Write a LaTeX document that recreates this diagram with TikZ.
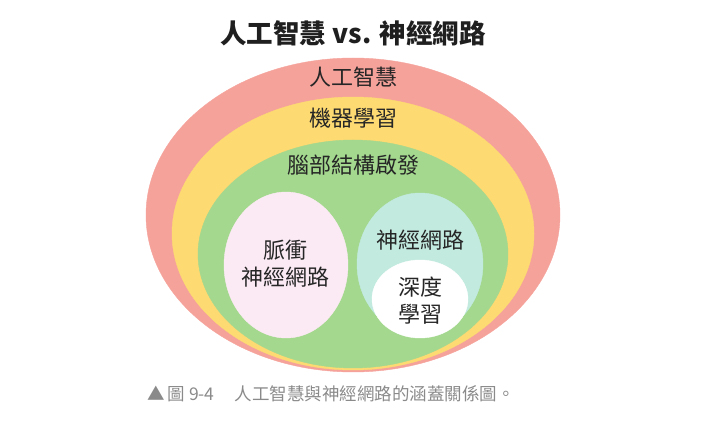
\documentclass[tikz,border=0pt]{standalone}
\usepackage{fontspec}
\usepackage{xcolor}
\usetikzlibrary{positioning}
\newfontfamily\cjk{Noto Sans CJK TC}
\definecolor{aired}{HTML}{F5A29B}
\definecolor{mlyellow}{HTML}{FDDA72}
\definecolor{brgreen}{HTML}{A3D88E}
\definecolor{snnpink}{HTML}{FBEAF3}
\definecolor{nnteal}{HTML}{C2EADF}
\definecolor{captgray}{HTML}{8A8A8A}
\tikzset{lbl/.style={font=\cjk\fontsize{22}{27}\selectfont,text=black!85,align=center,inner sep=0pt},
  titletext/.style={font=\cjk\bfseries\fontsize{26.5}{30}\selectfont,text=black!88,inner sep=0pt},
  capt/.style={font=\cjk\fontsize{17.5}{20}\selectfont,text=captgray,inner sep=0pt}}

\begin{document}
\begin{tikzpicture}[x=1pt,y=-1pt]
\useasboundingbox (0,0) rectangle (720,427);
\draw [fill=aired,aired] (353,215) ellipse [x radius=207,y radius=157];
\draw [fill=mlyellow,mlyellow] (353,233.5) ellipse [x radius=181,y radius=136.5];
\draw [fill=brgreen,brgreen] (353,254) ellipse [x radius=155,y radius=114];
\draw [fill=snnpink,snnpink] (286,265) ellipse [x radius=62,y radius=73];
\draw [fill=nnteal,nnteal] (420,264) ellipse [x radius=63,y radius=71];
\draw [fill=white,white] (420,299) ellipse [x radius=48,y radius=39];
\node [titletext] (title) at (353,33) {人工智慧 vs. 神經網路};
\node [lbl] (ai) at (353,77) {人工智慧};
\node [lbl] (ml) at (353,118) {機器學習};
\node [lbl] (brain) at (353,165) {腦部結構啟發};
\node [lbl] (snn) at (285,264) {脈衝\\神經網路};
\node [lbl] (nn) at (420,240) {神經網路};
\node [lbl] (dl) at (420,301) {深度\\學習};
\node [capt,anchor=west] (fig) at (147,394) {▲\,圖 9-4};
\node [capt,right=20pt of fig] (captxt) {人工智慧與神經網路的涵蓋關係圖。};
\end{tikzpicture}
\end{document}
